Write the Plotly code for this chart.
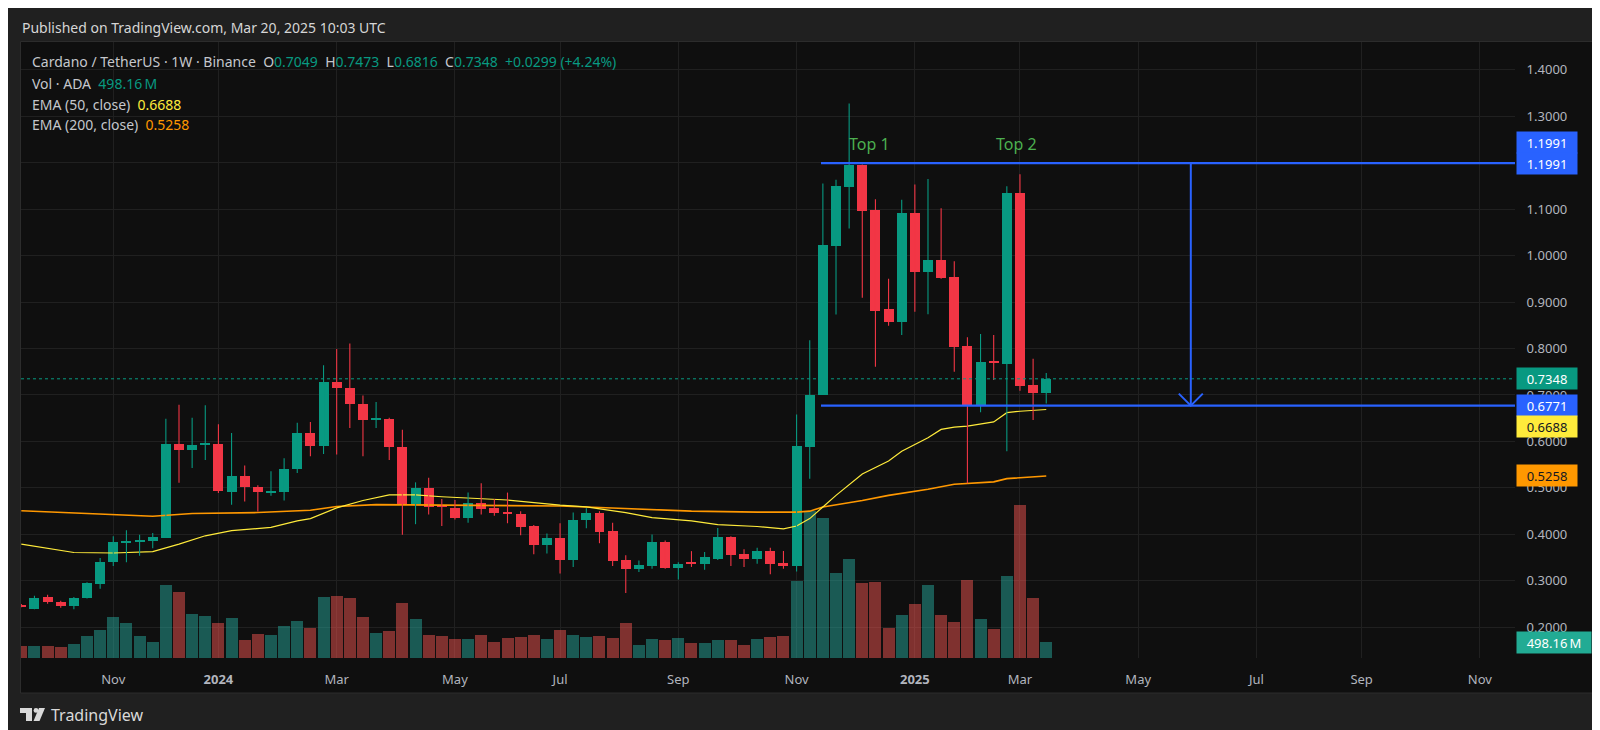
import pandas as pd
import plotly.graph_objects as go

# ---- weekly ADA/USDT candles (Binance), first bar week of 2023-09-18 ----
week_start = "2023-09-18"

opens = [0.248, 0.240, 0.265, 0.255, 0.245, 0.263, 0.293, 0.340, 0.383, 0.384,
         0.386, 0.392, 0.594, 0.581, 0.594, 0.594, 0.491, 0.525, 0.503, 0.491,
         0.492, 0.541, 0.618, 0.591, 0.728, 0.716, 0.681, 0.648, 0.649, 0.589,
         0.465, 0.499, 0.461, 0.456, 0.435, 0.467, 0.457, 0.448, 0.443, 0.417,
         0.378, 0.393, 0.345, 0.430, 0.447, 0.407, 0.344, 0.326, 0.332, 0.384,
         0.328, 0.340, 0.337, 0.348, 0.395, 0.357, 0.346, 0.364, 0.339, 0.333,
         0.588, 0.700, 1.020, 1.147, 1.194, 1.099, 0.885, 0.856, 1.091, 0.965,
         0.991, 0.953, 0.806, 0.678, 0.771, 0.766, 1.134, 0.722, 0.7049]
highs = [0.250, 0.268, 0.270, 0.257, 0.265, 0.297, 0.349, 0.396, 0.409, 0.399,
         0.403, 0.649, 0.679, 0.651, 0.678, 0.637, 0.618, 0.548, 0.506, 0.536,
         0.564, 0.640, 0.642, 0.764, 0.799, 0.811, 0.699, 0.685, 0.651, 0.625,
         0.512, 0.522, 0.476, 0.474, 0.490, 0.510, 0.476, 0.490, 0.450, 0.420,
         0.402, 0.424, 0.447, 0.456, 0.450, 0.425, 0.355, 0.344, 0.400, 0.387,
         0.340, 0.364, 0.362, 0.414, 0.396, 0.368, 0.371, 0.371, 0.364, 0.658,
         0.818, 1.155, 1.163, 1.327, 1.196, 1.121, 0.950, 1.120, 1.153, 1.165,
         1.102, 0.988, 0.824, 0.831, 0.829, 1.149, 1.175, 0.778, 0.7473]
lows = [0.243, 0.239, 0.251, 0.242, 0.239, 0.262, 0.283, 0.332, 0.340, 0.354,
        0.370, 0.392, 0.511, 0.543, 0.560, 0.489, 0.464, 0.471, 0.449, 0.483,
        0.473, 0.532, 0.568, 0.573, 0.572, 0.629, 0.568, 0.629, 0.560, 0.399,
        0.422, 0.443, 0.418, 0.432, 0.425, 0.443, 0.440, 0.424, 0.398, 0.357,
        0.359, 0.316, 0.330, 0.413, 0.381, 0.332, 0.274, 0.319, 0.326, 0.326,
        0.303, 0.330, 0.324, 0.345, 0.332, 0.330, 0.337, 0.314, 0.326, 0.320,
        0.520, 0.700, 0.873, 1.058, 0.909, 0.761, 0.849, 0.829, 0.879, 0.874,
        0.950, 0.750, 0.510, 0.663, 0.732, 0.579, 0.709, 0.646, 0.6816]
closes = [0.245, 0.264, 0.255, 0.245, 0.264, 0.295, 0.341, 0.383, 0.386, 0.389,
          0.394, 0.594, 0.581, 0.593, 0.596, 0.493, 0.525, 0.501, 0.491, 0.493,
          0.541, 0.618, 0.591, 0.728, 0.715, 0.680, 0.647, 0.650, 0.589, 0.465,
          0.499, 0.459, 0.459, 0.435, 0.467, 0.455, 0.445, 0.445, 0.415, 0.377,
          0.393, 0.345, 0.432, 0.447, 0.406, 0.342, 0.326, 0.334, 0.384, 0.328,
          0.337, 0.337, 0.351, 0.395, 0.355, 0.346, 0.364, 0.337, 0.333, 0.590,
          0.701, 1.022, 1.149, 1.194, 1.097, 0.881, 0.856, 1.091, 0.965, 0.991,
          0.951, 0.804, 0.678, 0.771, 0.769, 1.134, 0.719, 0.704, 0.7348]
# weekly volume, millions of ADA
volumes_m = [371, 371, 392, 339, 445, 710, 890, 1293, 1124, 710,
             509, 2311, 2099, 1399, 1325, 1102, 1261, 572, 763, 731,
             1007, 1166, 954, 1940, 1982, 1908, 1293, 795, 848, 1749,
             1240, 721, 700, 604, 594, 731, 519, 647, 668, 721,
             594, 890, 721, 668, 689, 625, 1113, 413, 594, 572,
             636, 488, 466, 572, 572, 403, 594, 668, 710, 2438,
             4664, 4441, 2703, 3159, 2385, 2406, 954, 1367, 1707, 2321,
             1367, 1145, 2480, 1240, 922, 2608, 4876, 1908, 498.16]

# EMA readings (week number, 1 = first bar)
ema50_weeks = [1, 5, 8, 11, 13, 15, 17, 20, 22, 23, 25, 27, 29, 31, 33, 35, 38,
               42, 44, 47, 49, 52, 54, 57, 59, 60, 61, 62, 63, 65, 67, 68, 70,
               71, 72, 73, 75, 76, 77, 79]
ema50_vals = [0.379, 0.361, 0.360, 0.363, 0.379, 0.397, 0.408, 0.415, 0.429,
              0.434, 0.457, 0.473, 0.485, 0.485, 0.481, 0.478, 0.474, 0.463,
              0.459, 0.447, 0.436, 0.429, 0.421, 0.417, 0.412, 0.418, 0.434,
              0.459, 0.484, 0.530, 0.558, 0.579, 0.608, 0.626, 0.631, 0.633,
              0.642, 0.662, 0.665, 0.6688]
ema200_weeks = [1, 8, 11, 14, 19, 23, 25, 28, 36, 42, 45, 52, 57, 60, 61, 62,
                65, 67, 70, 72, 75, 76, 79]
ema200_vals = [0.451, 0.442, 0.439, 0.445, 0.447, 0.452, 0.460, 0.464, 0.463,
               0.461, 0.458, 0.450, 0.448, 0.448, 0.450, 0.459, 0.473, 0.484,
               0.497, 0.508, 0.513, 0.520, 0.5258]

tick_dates = ["2023-11-06", "2024-01-01", "2024-03-04", "2024-05-06", "2024-07-01",
              "2024-09-02", "2024-11-04", "2025-01-06", "2025-03-03", "2025-05-05",
              "2025-07-07", "2025-09-01", "2025-11-03"]
tick_text = ["Nov", "<b>2024</b>", "Mar", "May", "Jul", "Sep", "Nov",
             "<b>2025</b>", "Mar", "May", "Jul", "Sep", "Nov"]
price_ticks = [0.2, 0.3, 0.4, 0.5, 0.6, 0.7, 0.8, 0.9, 1.0, 1.1, 1.2, 1.3, 1.4]

top_level = 1.1991
bottom_level = 0.6771
level_start = "2024-11-17"
arrow_date = "2025-06-02"
top_labels = ["Top 1", "Top 2"]
top_label_dates = ["2024-12-13", "2025-03-01"]
last_close = 0.7348
ema50_last = 0.6688
ema200_last = 0.5258
last_volume_m = 498.16

# ---- colours / geometry ----
UP = "#089981"
DOWN = "#F23645"
VOL_UP = "rgba(38,166,154,0.5)"
VOL_DOWN = "rgba(239,83,80,0.5)"
BLUE = "#2962FF"
YELLOW = "#FFEB3B"
ORANGE = "#FF9800"
GRID = "#202020"
TXT = "#b2b5be"
FONT = "Noto Sans"

W, H = 1600, 730
L, R, T, B = 13, 93, 34, 80
PW, PH = W - L - R, H - T - B
DAY_MS = 86400000


def px_x(px):
    return (px - L) / PW


def px_y(py):
    return (H - B - py) / PH


weeks = pd.date_range(week_start, periods=len(closes), freq="7D")
up = [c >= o for o, c in zip(opens, closes)]

fig = go.Figure()

# volume (bottom layer, own hidden axis)
fig.add_trace(go.Bar(
    x=weeks, y=volumes_m, width=6.4 * DAY_MS,
    marker=dict(color=[VOL_UP if u else VOL_DOWN for u in up], line_width=0),
    yaxis="y", hoverinfo="skip",
))

# EMAs
fig.add_trace(go.Scatter(
    x=[weeks[i - 1] for i in ema200_weeks], y=ema200_vals, mode="lines",
    line=dict(color=ORANGE, width=1.6), yaxis="y2", hoverinfo="skip",
))
fig.add_trace(go.Scatter(
    x=[weeks[i - 1] for i in ema50_weeks], y=ema50_vals, mode="lines",
    line=dict(color=YELLOW, width=1.2), yaxis="y2", hoverinfo="skip",
))

# candles: wicks + bodies
for flag, color in [(True, UP), (False, DOWN)]:
    idx = [i for i, u in enumerate(up) if u == flag]
    wx, wy = [], []
    for i in idx:
        wx += [weeks[i], weeks[i], None]
        wy += [lows[i], highs[i], None]
    fig.add_trace(go.Scatter(
        x=wx, y=wy, mode="lines", line=dict(color=color, width=1.1),
        yaxis="y2", hoverinfo="skip",
    ))
    fig.add_trace(go.Bar(
        x=[weeks[i] for i in idx],
        y=[max(abs(closes[i] - opens[i]), 0.0022) for i in idx],
        base=[min(opens[i], closes[i]) for i in idx],
        width=5.3 * DAY_MS,
        marker=dict(color=color, line_width=0),
        yaxis="y2", hoverinfo="skip",
    ))

x_range = ["2023-09-17 20:00", "2025-11-21 17:00"]

shapes = [
    # chart panel
    dict(type="rect", xref="paper", yref="paper", layer="below",
         x0=px_x(12.5), x1=px_x(1587), y0=px_y(685), y1=px_y(33.5),
         fillcolor="#0f0f0f", line=dict(color="#2c2c2c", width=1)),
    # last price dotted line
    dict(type="line", xref="paper", yref="y2", x0=0, x1=1,
         y0=last_close, y1=last_close, line=dict(color=UP, width=1, dash="dot")),
    # double top levels
    dict(type="line", xref="x", yref="y2", x0=level_start, x1=x_range[1],
         y0=top_level, y1=top_level, line=dict(color=BLUE, width=2.2)),
    dict(type="line", xref="x", yref="y2", x0=level_start, x1=x_range[1],
         y0=bottom_level, y1=bottom_level, line=dict(color=BLUE, width=2.2)),
    # target arrow
    dict(type="line", xref="x", yref="y2", x0=arrow_date, x1=arrow_date,
         y0=top_level, y1=bottom_level, line=dict(color=BLUE, width=2)),
    dict(type="path", xref="x", yref="y2", xsizemode="pixel", ysizemode="pixel",
         xanchor=arrow_date, yanchor=bottom_level,
         path="M -12,12 L 0,0 L 12,12", line=dict(color=BLUE, width=2)),
    # TradingView logo
    dict(type="path", xref="paper", yref="paper", xsizemode="pixel", ysizemode="pixel",
         xanchor=px_x(12), yanchor=px_y(713),
         path="M 0,13 H 12 V 0 H 6 V 8 H 0 Z", fillcolor="#d9d9d9", line_width=0),
    dict(type="circle", xref="paper", yref="paper", xsizemode="pixel", ysizemode="pixel",
         xanchor=px_x(12), yanchor=px_y(713), x0=13.6, x1=18.4, y0=8.2, y1=13,
         fillcolor="#d9d9d9", line_width=0),
    dict(type="path", xref="paper", yref="paper", xsizemode="pixel", ysizemode="pixel",
         xanchor=px_x(12), yanchor=px_y(713),
         path="M 19,13 H 25 L 19.5,0 H 13.5 Z", fillcolor="#d9d9d9", line_width=0),
]

annotations = []


def text_at(px, py, text, size=14, color=TXT):
    annotations.append(dict(
        xref="paper", yref="paper", x=px_x(px), y=px_y(py), xanchor="left",
        yanchor="middle", text=text, showarrow=False,
        font=dict(family=FONT, size=size, color=color),
    ))


def val(s, color):
    return f"<span style='color:{color}'>{s}</span>"


sp = "\u00a0\u00a0"
chg = last_close - opens[-1]
text_at(12, 19, "Published on TradingView.com, Mar 20, 2025 10:03 UTC", 14, "#d6d6d6")
text_at(22, 53,
        "Cardano / TetherUS · 1W · Binance" + sp
        + "O" + val(f"{opens[-1]:.4f}", UP) + sp
        + "H" + val(f"{highs[-1]:.4f}", UP) + sp
        + "L" + val(f"{lows[-1]:.4f}", UP) + sp
        + "C" + val(f"{closes[-1]:.4f}", UP) + sp
        + val(f"{chg:+.4f} ({chg / opens[-1] * 100:+.2f}%)", UP),
        14, "#c5c7cc")
text_at(22, 75, "Vol · ADA" + sp + val(f"{last_volume_m:.2f}\u2009M", UP), 14, "#c5c7cc")
text_at(22, 96, "EMA (50, close)" + sp + val(f"{ema50_last:.4f}", YELLOW), 14, "#c5c7cc")
text_at(22, 117, "EMA (200, close)" + sp + val(f"{ema200_last:.4f}", ORANGE), 14, "#c5c7cc")
text_at(41, 707, "TradingView", 16, "#d9d9d9")

for lab, d in zip(top_labels, top_label_dates):
    annotations.append(dict(
        xref="x", yref="y2", x=d, y=top_level, yanchor="bottom", yshift=6,
        text=lab, showarrow=False, font=dict(family=FONT, size=16, color="#4CAF50"),
    ))


def axis_label(value, text, bg, fg="#ffffff", yref="y2", yshift=0, width=56):
    annotations.append(dict(
        xref="paper", yref=yref, x=px_x(1508), y=value, xanchor="left",
        yanchor="middle", yshift=yshift, text=text, showarrow=False,
        bgcolor=bg, borderpad=2, width=width, height=17, align="center",
        font=dict(family=FONT, size=13, color=fg),
    ))


axis_label(top_level, f"{top_level:.4f}", BLUE, yshift=21)
axis_label(top_level, f"{top_level:.4f}", BLUE)
axis_label(last_close, f"{last_close:.4f}", UP)
axis_label(bottom_level, f"{bottom_level:.4f}", BLUE)
axis_label(ema50_last, f"{ema50_last:.4f}", YELLOW, "#131722", yshift=-17)
axis_label(ema200_last, f"{ema200_last:.4f}", ORANGE, "#131722")
axis_label(last_volume_m, f"{last_volume_m:.2f}\u2009M", "#22ab94", yref="y", width=70)

fig.update_layout(
    width=W, height=H,
    margin=dict(l=L, r=R, t=T, b=B),
    paper_bgcolor="#202020", plot_bgcolor="#0f0f0f",
    barmode="overlay", bargap=0, showlegend=False,
    font=dict(family=FONT, color=TXT, size=13),
    xaxis=dict(
        type="date", range=x_range, tickvals=tick_dates, ticktext=tick_text,
        showgrid=True, gridcolor=GRID, gridwidth=1, zeroline=False,
        ticks="outside", ticklen=9, tickcolor="rgba(0,0,0,0)",
        tickfont=dict(family=FONT, size=13, color=TXT), showline=False,
    ),
    yaxis=dict(range=[0, 19590], visible=False, showgrid=False, zeroline=False),
    yaxis2=dict(
        overlaying="y", side="right", range=[0.134, 1.4596],
        tickvals=price_ticks, tickformat=".4f", showgrid=True, gridcolor=GRID,
        zeroline=False, ticks="outside", ticklen=8, tickcolor="rgba(0,0,0,0)",
        tickfont=dict(family=FONT, size=13, color=TXT), showline=False,
    ),
    shapes=shapes,
    annotations=annotations,
)

fig.write_html("out.html")
